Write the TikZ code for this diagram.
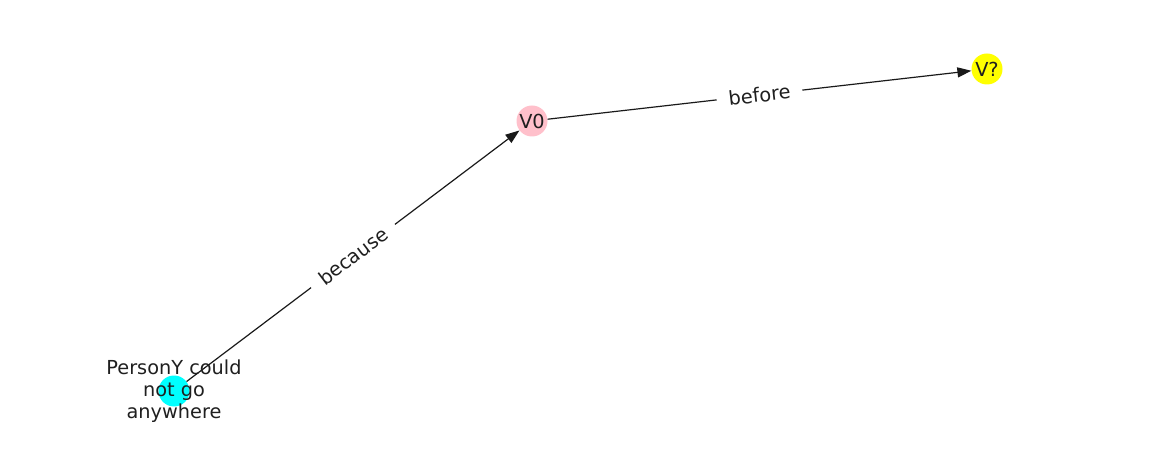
\documentclass[tikz,border=0pt]{standalone}
\usepackage{fontspec}
\setmainfont{DejaVu Sans}
\usetikzlibrary{arrows.meta}
\definecolor{nodecyan}{RGB}{0,255,255}
\definecolor{nodepink}{RGB}{255,192,203}
\definecolor{nodeyellow}{RGB}{255,255,0}
\begin{document}
\begin{tikzpicture}[x=1pt,y=-1pt,
  vtx/.style={circle, minimum size=31pt, inner sep=0pt, draw=none},
  vtxtext/.style={font=\fontsize{19.3}{22}\selectfont, align=center, text=black!88, inner sep=0pt},
  elbl/.style={fill=white, inner xsep=12pt, inner ysep=6pt, font=\fontsize{19.3}{22}\selectfont, text=black!88, sloped},
  arr/.style={-{Triangle[length=14pt,width=10pt]}, line width=1.2pt, draw=black!90}]
\useasboundingbox (0,0) rectangle (1162,462);
\node[vtx, fill=nodecyan] (c) at (174,391) {};
\node[vtx, fill=nodepink] (p) at (532,121) {};
\node[vtx, fill=nodeyellow] (y) at (987,69) {};
\draw[arr] (c) -- (p);
\draw[arr] (p) -- (y);
\path (c.center) -- node[elbl] (lb1) {because} (p.center);
\path (p.center) -- node[elbl] (lb2) {before} (y.center);
\node[vtxtext] (tc) at (c.center) {PersonY could\\not go\\anywhere};
\node[vtxtext] (tp) at (p.center) {V0};
\node[vtxtext] (ty) at (y.center) {V?};
\end{tikzpicture}
\end{document}
